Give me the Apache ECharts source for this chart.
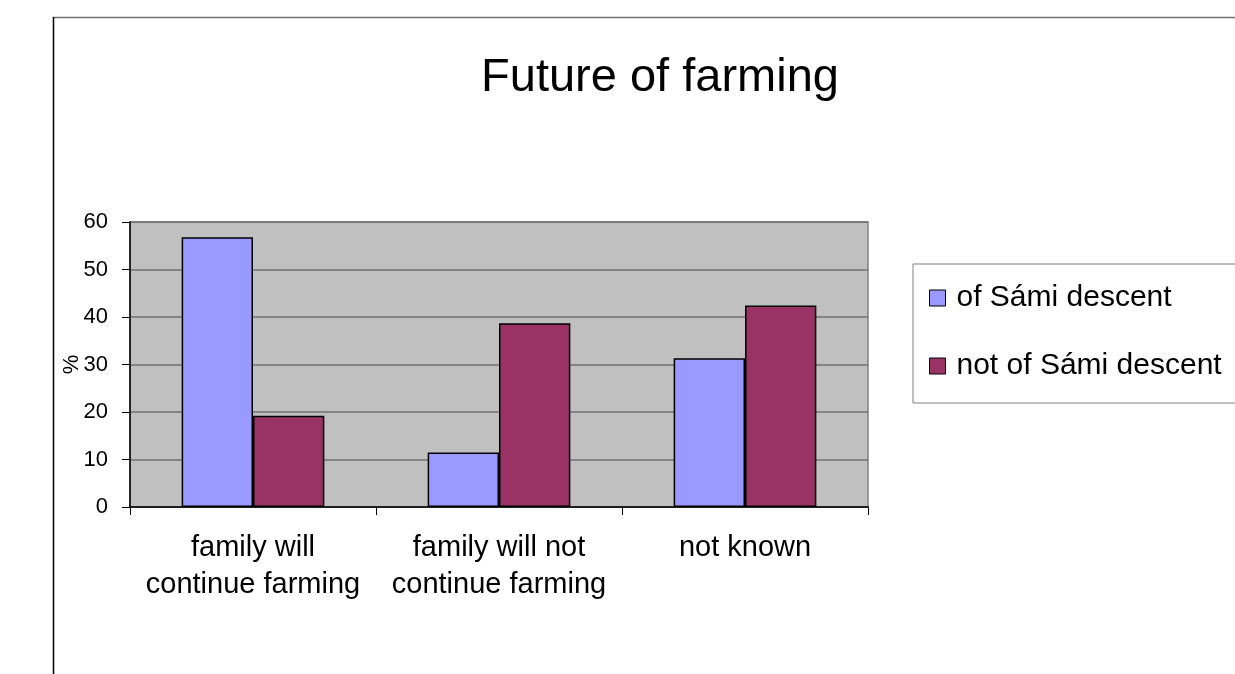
<!DOCTYPE html>
<html>
<head>
<meta charset="utf-8">
<title>Future of farming</title>
<script src="https://cdn.jsdelivr.net/npm/echarts@6/dist/echarts.min.js"></script>
<style>
  html, body { margin: 0; padding: 0; background: #ffffff; }
  #chart { width: 1235px; height: 674px; }
</style>
</head>
<body>
<div id="chart"></div>
<script>
// Survey answers on whether the family will keep the farm going (%)
const categories = ['family will\ncontinue farming', 'family will not\ncontinue farming', 'not known'];
const samiDescent = [56.8, 11.5, 31.3];
const notSamiDescent = [19.2, 38.7, 42.4];
const seriesNames = ['of Sámi descent', 'not of Sámi descent'];
const yTicks = { min: 0, max: 60, interval: 10 };

const FONT = '"Liberation Sans", Arial, sans-serif';

const chart = echarts.init(document.getElementById('chart'), null, { renderer: 'canvas' });

chart.setOption({
  backgroundColor: '#ffffff',
  animation: false,
  title: {
    text: 'Future of farming',
    left: 655,
    top: 50,
    textAlign: 'center',
    textStyle: { fontFamily: FONT, fontSize: 47, fontWeight: 'normal', color: '#000000' }
  },
  legend: {
    orient: 'vertical',
    left: 913,
    top: 264,
    padding: [19, 40, 22, 16],
    itemGap: 38,
    itemWidth: 16,
    itemHeight: 16,
    icon: 'rect',
    borderColor: '#808080',
    borderWidth: 1,
    backgroundColor: '#ffffff',
    textStyle: { fontFamily: FONT, fontSize: 30, lineHeight: 30, color: '#000000', padding: [0, 0, 0, 6] },
    itemStyle: { borderColor: '#000000', borderWidth: 1 },
    data: seriesNames
  },
  grid: {
    left: 130,
    top: 222,
    width: 738,
    height: 285,
    show: true,
    backgroundColor: '#c0c0c0',
    borderColor: '#808080',
    borderWidth: 1.5
  },
  xAxis: {
    type: 'category',
    data: categories,
    boundaryGap: true,
    axisLine: { lineStyle: { color: '#000000', width: 1.5 } },
    axisTick: { show: true, length: 8, alignWithLabel: false, lineStyle: { color: '#000000', width: 1 } },
    axisLabel: { fontFamily: FONT, fontSize: 29, lineHeight: 37, color: '#000000', margin: 22, interval: 0 }
  },
  yAxis: {
    type: 'value',
    min: yTicks.min,
    max: yTicks.max,
    interval: yTicks.interval,
    name: '%',
    nameLocation: 'middle',
    nameGap: 47,
    nameRotate: 90,
    nameMoveOverlap: false,
    nameTextStyle: { fontFamily: FONT, fontSize: 22, color: '#000000' },
    axisLine: { show: true, lineStyle: { color: '#000000', width: 1.5 } },
    axisTick: { show: true, length: 8, lineStyle: { color: '#000000', width: 1 } },
    axisLabel: { fontFamily: FONT, fontSize: 22, color: '#000000', margin: 22 },
    splitLine: { show: true, lineStyle: { color: '#707070', width: 1.5 } }
  },
  series: [
    {
      name: seriesNames[0],
      type: 'bar',
      data: samiDescent,
      barGap: '0%',
      barCategoryGap: '42%',
      itemStyle: { color: '#9999ff', borderColor: '#000000', borderWidth: 1.5 }
    },
    {
      name: seriesNames[1],
      type: 'bar',
      data: notSamiDescent,
      barGap: '0%',
      barCategoryGap: '42%',
      itemStyle: { color: '#993366', borderColor: '#000000', borderWidth: 1.5 }
    }
  ],
  graphic: [
    {
      type: 'line',
      shape: { x1: 53, y1: 17.5, x2: 1235, y2: 17.5 },
      style: { stroke: '#707070', lineWidth: 1.5 }
    },
    {
      type: 'line',
      shape: { x1: 53.5, y1: 17, x2: 53.5, y2: 674 },
      style: { stroke: '#000000', lineWidth: 1.5 }
    }
  ]
});
</script>
</body>
</html>
